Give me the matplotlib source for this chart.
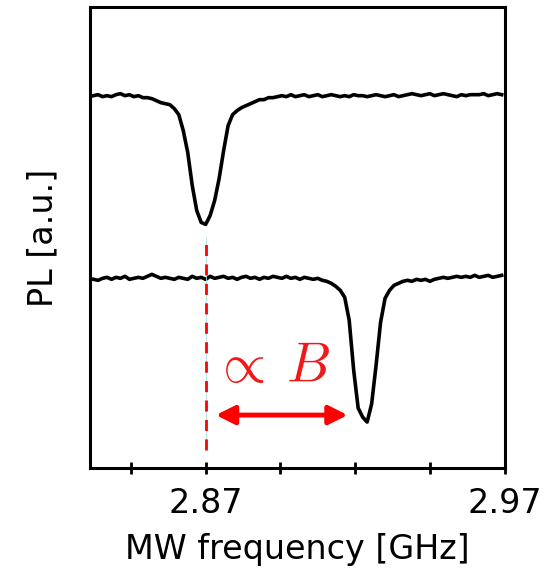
import matplotlib
matplotlib.use("Agg")
import matplotlib.pyplot as plt

plt.rcParams["font.family"] = "DejaVu Sans"
plt.rcParams["mathtext.fontset"] = "cm"

# MW sweep frequencies [GHz]
freq = [
    2.8325, 2.8340, 2.8355, 2.8370, 2.8385, 2.8400, 2.8415, 2.8430, 2.8445, 2.8460,
    2.8475, 2.8490, 2.8505, 2.8520, 2.8535, 2.8550, 2.8565, 2.8580, 2.8595, 2.8610,
    2.8625, 2.8640, 2.8655, 2.8670, 2.8685, 2.8700, 2.8715, 2.8730, 2.8745, 2.8760,
    2.8775, 2.8790, 2.8805, 2.8820, 2.8835, 2.8850, 2.8865, 2.8880, 2.8895, 2.8910,
    2.8925, 2.8940, 2.8955, 2.8970, 2.8985, 2.9000, 2.9015, 2.9030, 2.9045, 2.9060,
    2.9075, 2.9090, 2.9105, 2.9120, 2.9135, 2.9150, 2.9165, 2.9180, 2.9195, 2.9210,
    2.9225, 2.9240, 2.9255, 2.9270, 2.9285, 2.9300, 2.9315, 2.9330, 2.9345, 2.9360,
    2.9375, 2.9390, 2.9405, 2.9420, 2.9435, 2.9450, 2.9465, 2.9480, 2.9495, 2.9510,
    2.9525, 2.9540, 2.9555, 2.9570, 2.9585, 2.9600, 2.9615, 2.9630, 2.9645, 2.9660,
    2.9675, 2.9690,
]

# PL, zero field (upper trace)
pl_zero_field = [
    3.73, 3.74, 3.72, 3.73, 3.72, 3.74, 3.75, 3.73, 3.74, 3.72,
    3.73, 3.71, 3.71, 3.70, 3.68, 3.66, 3.65, 3.64, 3.60, 3.54,
    3.38, 3.16, 2.83, 2.58, 2.46, 2.44, 2.53, 2.68, 2.90, 3.18,
    3.43, 3.54, 3.58, 3.61, 3.63, 3.65, 3.67, 3.69, 3.69, 3.71,
    3.71, 3.72, 3.73, 3.72, 3.74, 3.72, 3.73, 3.74, 3.72, 3.73,
    3.74, 3.72, 3.73, 3.74, 3.73, 3.72, 3.73, 3.72, 3.74, 3.73,
    3.73, 3.72, 3.73, 3.74, 3.73, 3.72, 3.73, 3.74, 3.72, 3.73,
    3.74, 3.75, 3.74, 3.73, 3.74, 3.75, 3.73, 3.74, 3.75, 3.74,
    3.73, 3.72, 3.74, 3.73, 3.74, 3.74, 3.74, 3.75, 3.73, 3.74,
    3.75, 3.74,
]

# PL, with applied field B (lower trace)
pl_with_field = [
    1.89, 1.88, 1.90, 1.91, 1.89, 1.91, 1.90, 1.92, 1.89, 1.90,
    1.91, 1.90, 1.92, 1.94, 1.92, 1.90, 1.91, 1.90, 1.89, 1.91,
    1.90, 1.89, 1.92, 1.90, 1.91, 1.89, 1.92, 1.90, 1.91, 1.92,
    1.90, 1.91, 1.89, 1.91, 1.92, 1.90, 1.91, 1.89, 1.91, 1.90,
    1.92, 1.91, 1.90, 1.92, 1.90, 1.91, 1.89, 1.91, 1.90, 1.89,
    1.90, 1.88, 1.87, 1.85, 1.82, 1.78, 1.71, 1.48, 0.98, 0.60,
    0.51, 0.46, 0.64, 1.03, 1.46, 1.70, 1.78, 1.83, 1.85, 1.87,
    1.88, 1.87, 1.89, 1.88, 1.89, 1.87, 1.89, 1.90, 1.91, 1.90,
    1.91, 1.92, 1.91, 1.92, 1.91, 1.93, 1.91, 1.92, 1.93, 1.91,
    1.92, 1.93,
]

zero_field_res = 2.87
split_res = 2.9175
major_ticks = [2.87, 2.97]
minor_ticks = [2.845, 2.895, 2.92, 2.945]

fig = plt.figure(figsize=(5.5, 5.7), dpi=100)
ax = fig.add_axes([0.1636, 0.179, 0.7545, 0.809])

ax.plot(freq, pl_zero_field, color="black", lw=2.6)
ax.plot(freq, pl_with_field, color="black", lw=2.6)

# dashed marker at the zero-field resonance
ax.plot([zero_field_res, zero_field_res], [0.18, 2.31], color="#a8e0e8", lw=0.6)
ax.plot([zero_field_res, zero_field_res], [0.18, 2.31], color="red", lw=2,
        linestyle=(0, (4, 3)))

# splitting arrow
ax.annotate("", xy=(split_res, 0.53), xytext=(2.8734, 0.53),
            arrowprops=dict(arrowstyle="<|-|>", color="red", lw=3.5,
                            mutation_scale=28, shrinkA=0, shrinkB=0))
ax.text(2.8922, 1.01, r"$\propto\:B$", color="#f01818", fontsize=40,
        ha="center", va="center")

ax.set_xlim(2.8313, 2.9701)
ax.set_ylim(0, 4.62)

ax.set_xticks(major_ticks)
ax.set_xticklabels(["2.87", "2.97"])
ax.set_xticks(minor_ticks, minor=True)
ax.tick_params(axis="x", which="both", direction="inout", length=8, width=2,
               labelsize=24, pad=10)
ax.set_yticks([])

for side in ["top", "bottom", "left", "right"]:
    ax.spines[side].set_linewidth(2.2)

ax.set_xlabel("MW frequency [GHz]", fontsize=24, labelpad=9)
ax.set_ylabel("PL [a.u.]", fontsize=24, labelpad=22)

plt.savefig("out.png", dpi=100)
plt.close()
